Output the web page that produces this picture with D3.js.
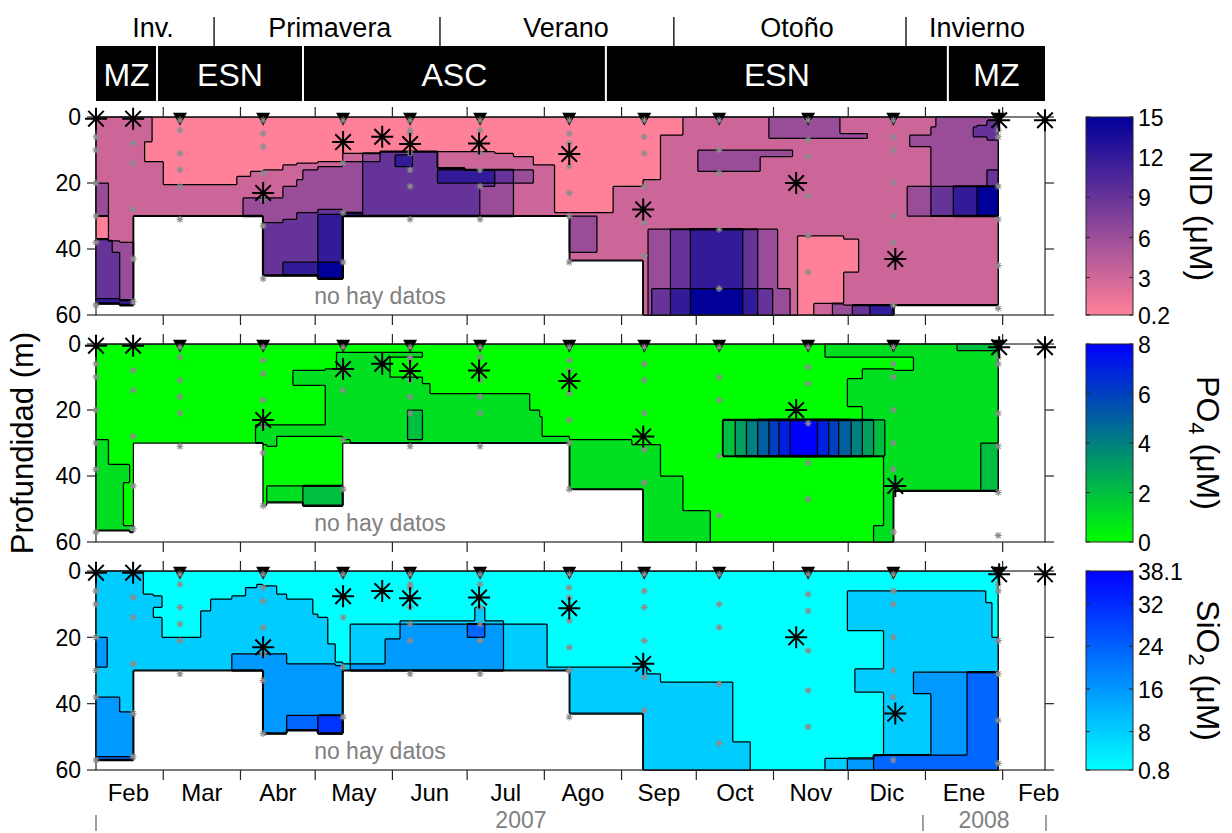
<!DOCTYPE html>
<html><head><meta charset="utf-8">
<script src="https://cdn.jsdelivr.net/npm/d3@7"></script>
<style>
body{margin:0;background:#fff}
svg{display:block}
text{font-family:"Liberation Sans",Arial,Helvetica,sans-serif}
</style>
</head><body>
<svg id="c" width="1232" height="833"></svg>
<script>
// ---------------- DATA ----------------
// time unit: day of year 2007 (0 = 1 Jan 2007; >365 = 2008)
const monthNames = ["Ene","Feb","Mar","Abr","May","Jun","Jul","Ago","Sep","Oct","Nov","Dic"];
const depthTicks = [0, 20, 40, 60];
const seasonNames = ["Inv.","Primavera","Verano","Otoño","Invierno"];
const seasonLabelDoy = [54.9, 125.9, 220.7, 313.4, 385.7];
const seasonBreakDoy = [79.4, 170.1, 264.0, 357.2];
const regimeNames = ["MZ","ESN","ASC","ESN","MZ"];
const regimeBreakDoy = [32, 56.5, 115.1, 236.7, 374.0, 413];
const yearNames = ["2007","2008"];
const yearLabelDoy = [202.6, 388.5];
const yearBreakDoy = [32, 364.0, 413.4];

// sampling stations (gray asterisks) and their depths (m)
const stationDoy = [32, 46.9, 65.7, 99.1, 131.2, 158.1, 186.2, 222, 252.1, 282.2, 317.9, 352.1, 394.2];
const stationDepths = [
  [0.5, 6, 10, 20, 30, 38, 57],
  [0.5, 8, 14, 28, 43, 56],
  [1, 4, 11, 16, 21, 31],
  [1, 5, 9, 17, 25, 33, 49],
  [1, 8, 14, 29, 44],
  [1, 4, 5, 8, 11, 16, 21, 31],
  [1, 4, 8, 11, 16, 21, 31],
  [1, 5, 8, 15, 23, 30, 44],
  [1, 6, 11, 21, 32, 42],
  [1, 10, 17, 34, 52],
  [1, 7, 12, 24, 36, 47],
  [1, 6, 10, 20, 30, 38, 57],
  [1, 4, 6, 21, 31, 45, 58]
];
const triangleStations = [2,3,4,5,6,7,8,9,10,11,12];

// black asterisks
const markDoy   = [32, 46.9, 99.1, 131.2, 146.9, 158.1, 185.8, 222, 251.7, 313.1, 352.9, 394.6, 413];
const markDepth = [0.5, 0.5, 23, 7.6, 6, 8.2, 8, 11.2, 28, 20, 43, 1, 1];

// contour-class fields: [startDoy, endDoy, "class:bottomDepth ..."]  (blank below = no data)
const nidSegments = [
 [32, 36.8, "1:20 2:30 0:37 3:55 4:56.5"],
 [36.8, 38.4, "1:37.5 3:55 4:56.5"],
 [38.4, 41.6, "1:37.5 2:41 3:55 4:56.5"],
 [41.6, 46.9, "1:38 2:55.5 4:57"],
 [46.9, 51.7, "1:30"],
 [51.7, 54.5, "1:7.5 0:13.5 1:30"],
 [54.5, 58.9, "0:13.5 1:30"],
 [58.9, 88.6, "0:20.5 1:30"],
 [88.6, 91, "0:18 1:30"],
 [91, 93.8, "0:18 1:24.5 2:30"],
 [93.8, 99.1, "0:16.5 1:24.5 2:30"],
 [99.1, 107.1, "0:16 1:24.5 2:32 3:48"],
 [107.1, 112.7, "0:14.5 1:21 2:31 3:44 4:48"],
 [112.7, 115.1, "0:14 1:19 2:29 3:44 4:48"],
 [115.1, 120.8, "0:14 1:16 2:29 3:44 4:48"],
 [120.8, 131.2, "0:13.5 1:15 2:28 3:29.5 4:44 5:49"],
 [131.2, 139.2, "0:11 1:13.5 2:29 4:30"],
 [139.2, 146.1, "0:10.8 2:13.5 3:30"],
 [146.1, 152.1, "0:10.5 3:30"],
 [152.1, 159.3, "0:10.5 3:11.5 4:15 3:30"],
 [159.3, 169.3, "0:10.5 3:30"],
 [169.3, 180.2, "0:10.5 1:15.5 3:16 4:20 3:30"],
 [180.2, 186.2, "0:10.5 1:16 4:20 3:30"],
 [186.2, 192.2, "0:10.5 1:16 4:20 3:21 2:30"],
 [192.2, 199.5, "0:11 1:16 3:20 2:30"],
 [199.5, 207.5, "0:12 1:16 2:20 1:30"],
 [207.5, 216.3, "0:14.5 1:30"],
 [216.3, 222, "0:29 1:30"],
 [222, 233.2, "0:29 1:30 2:41 1:43.5"],
 [233.2, 239.6, "0:29 1:43.5"],
 [239.6, 251.7, "0:21 1:43.5"],
 [251.7, 253.7, "0:19 1:60"],
 [253.7, 255.3, "0:19 1:34 2:60"],
 [255.3, 258.5, "0:19 1:34 2:52 3:60"],
 [258.5, 262.5, "0:5.5 1:34 2:52 3:60"],
 [262.5, 267.7, "0:5.5 1:34 3:52 4:60"],
 [267.7, 270.6, "1:34 3:52 4:60"],
 [270.6, 273.4, "1:34 4:52 5:60"],
 [273.4, 291.4, "1:10 2:16.5 1:34 4:52 5:60"],
 [291.4, 297.5, "1:10 2:16.5 1:34 3:52 4:60"],
 [297.5, 298.7, "1:10 2:16.5 1:34 2:52 3:60"],
 [298.7, 301.9, "1:10 2:12 1:34 2:52 3:60"],
 [301.9, 303.9, "2:6.5 1:10 2:12 1:34 2:52 3:60"],
 [303.9, 305.5, "2:6.5 1:10 2:12 1:34 2:60"],
 [305.5, 310.7, "2:6.5 1:10 2:12 1:52 2:60"],
 [310.7, 311.9, "2:6.5 1:10 2:12 1:60"],
 [311.9, 313.5, "2:6.5 1:60"],
 [313.5, 320, "2:6.5 1:36 0:60"],
 [320, 327.6, "2:6.5 1:36 0:56.5 1:60"],
 [327.6, 330.8, "2:6.5 1:36 0:56.5 2:60"],
 [330.8, 332, "1:5 2:6.5 1:36 0:56.5 2:60"],
 [332, 335.6, "1:5 2:6.5 1:37 0:47 1:57 2:60"],
 [335.6, 338, "1:5 2:6.5 1:37 0:47 1:57 3:60"],
 [338, 341.6, "1:5 2:6.5 1:57 3:60"],
 [341.6, 342.8, "1:57 3:60"],
 [342.8, 352.1, "1:57 4:60"],
 [352.1, 357.7, "1:57"],
 [357.7, 358.9, "1:21 2:30 1:57"],
 [358.9, 367, "1:5.5 2:9 1:21 2:30 1:57"],
 [367, 369, "1:3 2:21 3:30 1:57"],
 [369, 376.2, "2:21 3:30 1:57"],
 [376.2, 384.2, "2:21 4:30 1:57"],
 [384.2, 385.8, "2:3 3:6 2:21 4:30 1:57"],
 [385.8, 389.8, "2:2.5 3:6 2:21 5:30 1:57"],
 [389.8, 394.2, "2:1 3:7 2:16 3:21 5:30 1:57"]
];
const po4Segments = [
 [32, 36.8, "0:29 1:56.5"],
 [36.8, 42.8, "0:36.5 1:56.5"],
 [42.8, 45.7, "0:36.5 1:42 0:55 1:56.5"],
 [45.7, 46.9, "0:55 1:57"],
 [46.9, 95.9, "0:30"],
 [95.9, 99.1, "0:24.5 1:30"],
 [99.1, 100.7, "0:24.5 1:30.5 0:49"],
 [100.7, 104.7, "0:24.5 1:31 0:43 1:48"],
 [104.7, 111.1, "0:24.5 1:28 0:43 1:48"],
 [111.1, 115.1, "0:8 1:12.5 0:24.5 1:28 0:43 1:48"],
 [115.1, 124.0, "0:8 1:12.5 0:24.5 1:28 0:43 2:49"],
 [124.0, 128.8, "0:7.5 1:28 0:43 2:49"],
 [128.8, 131.2, "0:2.5 1:28 0:43 2:49"],
 [131.2, 134.0, "0:2.5 1:29 0:30"],
 [134.0, 150.1, "0:2.5 1:30"],
 [150.1, 157.3, "0:2.5 1:4 0:10 1:30"],
 [157.3, 163.3, "0:2.5 1:4 0:10 1:20 2:29 1:30"],
 [163.3, 166.1, "0:12 1:30"],
 [166.1, 206.3, "0:15 1:30"],
 [206.3, 210.3, "0:20 1:30"],
 [210.3, 211.1, "0:22 1:30"],
 [211.1, 222, "0:28 1:30"],
 [222, 247.3, "0:29 1:44"],
 [247.3, 251.7, "0:30.5 1:44"],
 [251.7, 258.5, "0:30.5 1:60"],
 [258.5, 267.5, "0:40 1:60"],
 [267.5, 278.6, "0:50.5 1:60"],
 [278.6, 283.8, "0:60"],
 [283.8, 288.6, "0:23 2:34 0:60"],
 [288.6, 293.1, "0:23 3:34 0:60"],
 [293.1, 297.5, "0:23 4:34 0:60"],
 [297.5, 301.9, "0:23 5:34 0:60"],
 [301.9, 306.3, "0:23 6:34 0:60"],
 [306.3, 310.7, "0:23 7:34 0:60"],
 [310.7, 321.6, "0:23 8:34 0:60"],
 [321.6, 324.8, "0:23 7:34 0:60"],
 [324.8, 326.0, "1:4 0:23 7:34 0:60"],
 [326.0, 330.4, "1:4 0:23 6:34 0:60"],
 [330.4, 333.6, "1:4 0:23 5:34 0:60"],
 [333.6, 335.2, "1:4 0:10.5 1:19 0:23 5:34 0:60"],
 [335.2, 339.6, "1:4 0:10.5 1:19 0:23 4:34 0:60"],
 [339.6, 344.0, "1:4 0:7.5 1:23 3:34 0:60"],
 [344.0, 348.1, "1:4 0:7.5 1:23 2:34 0:55 1:60"],
 [348.1, 348.9, "1:4 0:7.5 1:23 2:34 1:60"],
 [348.9, 352.1, "1:4 0:7.5 1:60"],
 [352.1, 360.1, "1:4 0:8 1:44.5"],
 [360.1, 377.8, "1:44.5"],
 [377.8, 387.0, "2:2 1:44.5"],
 [387.0, 394.2, "2:2 1:30 2:44.5"]
];
const sioSegments = [
 [32, 36.4, "1:20 2:29 1:38 2:56 3:57"],
 [36.4, 41.6, "1:38 2:56 3:57"],
 [41.6, 46.9, "1:42.5 2:56 3:57"],
 [46.9, 50.9, "1:30"],
 [50.9, 54.9, "0:7 1:30"],
 [54.9, 58.5, "0:7.5 1:11 0:14 1:30"],
 [58.5, 73.8, "0:20 1:30"],
 [73.8, 77.8, "0:12 1:30"],
 [77.8, 86.6, "0:8.5 1:30"],
 [86.6, 91.8, "0:7.5 1:25 2:30"],
 [91.8, 96.7, "0:5 1:25 2:30"],
 [96.7, 99.1, "0:4 1:25 2:30"],
 [99.1, 104.7, "0:4.5 1:25 2:49"],
 [104.7, 108.7, "0:7 1:25 2:49"],
 [108.7, 119.1, "0:8.5 1:28 2:43.7 3:48"],
 [119.1, 121.2, "0:13 1:28 2:43.7 3:48"],
 [121.2, 125.2, "0:14 1:28 2:43.7 4:49"],
 [125.2, 128.0, "0:22 1:28 2:43.7 4:49"],
 [128.0, 131.2, "0:27.5 1:28.5 2:43.7 4:49"],
 [131.2, 134.0, "0:28 1:30"],
 [134.0, 148.1, "0:16 1:28 2:30"],
 [148.1, 154.1, "0:16 1:20.5 2:30"],
 [154.1, 181.0, "0:15 1:16 2:30"],
 [181.0, 184.2, "0:15 1:16 3:20 2:30"],
 [184.2, 188.2, "0:11 1:16 3:20 2:30"],
 [188.2, 195.5, "0:15 1:16 2:30"],
 [195.5, 213.1, "0:16 1:30"],
 [213.1, 222, "0:29 1:30"],
 [222, 251.7, "0:29 1:43.2"],
 [251.7, 253.3, "0:29 1:60"],
 [253.3, 258.5, "0:31 1:60"],
 [258.5, 287.8, "0:33.5 1:60"],
 [287.8, 294.6, "0:51.5 1:60"],
 [294.6, 324.8, "0:60"],
 [324.8, 333.6, "0:56.5 1:60"],
 [333.6, 336.8, "0:6 1:18 0:56.5 2:60"],
 [336.8, 344.0, "0:6 1:18 0:29.5 1:36.5 0:56.5 2:60"],
 [344.0, 348.1, "0:6 1:18 0:29.5 1:36.5 0:55.5 3:60"],
 [348.1, 360.1, "0:6 1:55.5 3:60"],
 [360.1, 367.0, "0:6 1:30.5 2:37 1:55.5 3:60"],
 [367.0, 381.8, "0:6 1:30.5 2:55.5 3:60"],
 [381.8, 389.0, "0:6 1:30.5 3:60"],
 [389.0, 391.8, "0:9.5 1:30.5 3:60"],
 [391.8, 394.2, "0:20 1:30.5 3:60"]
];

// colour bars
const nidTicks = [0.2, 3, 6, 9, 12, 15];
const po4Ticks = [0, 2, 4, 6, 8];
const sioTicks = [0.8, 8, 16, 24, 32, 38.1];

// ---------------- DRAWING ----------------
const svg = d3.select("#c");
const day0 = Date.UTC(2007, 0, 1);
const dateOf = d => new Date(day0 + d * 864e5);
const xs = d3.scaleUtc().domain([dateOf(32), dateOf(413)]).range([96, 1045]);
const XL = 96, XR = 1045;
const T0 = 32, T1 = 394.2, NX = 724, NY = 120, DX = (T1 - T0) / NX, DY = 0.5;

const panels = [
  {top:117, bottom:315, seg:nidSegments, nLev:6, interp:d3.interpolateRgb("#ff8099","#000099"),
   ticks:nidTicks, dom:[0.2,15], title:[["NID",0],[" (μM)",0]], tx:1190},
  {top:344, bottom:542, seg:po4Segments, nLev:9, interp:d3.interpolateRgb("#00ff00","#0000ff"),
   ticks:po4Ticks, dom:[0,8], title:[["PO",0],["4",1],[" (μM)",0]], tx:1197},
  {top:571, bottom:770, seg:sioSegments, nLev:6, interp:d3.interpolateRgb("#00ffff","#0000ff"),
   ticks:sioTicks, dom:[0.8,38.1], title:[["SiO",0],["2",1],[" (μM)",0]], tx:1197}
];

function buildGrid(segments){
  const vals = new Float64Array(NX*NY).fill(-1);
  segments.forEach(([a,b,prof]) => {
    const runs = prof.trim().split(/\s+/).map(s => { const p = s.split(":"); return [+p[0], +p[1]]; });
    for (let i = 0; i < NX; i++){
      const t = T0 + (i + 0.5) * DX;
      if (t < a || t >= b) continue;
      for (let j = 0; j < NY; j++){
        const d = (j + 0.5) * DY;
        let v = -1;
        for (const [l, bot] of runs){ if (d < bot){ v = l; break; } }
        vals[j*NX + i] = v;
      }
    }
  });
  return vals;
}

const AX = "#262626";
function asterisk(g, x, y, r, color, w){
  const a = r * Math.SQRT1_2;
  const p = `M${x-r},${y}L${x+r},${y}M${x},${y-r}L${x},${y+r}M${x-a},${y-a}L${x+a},${y+a}M${x-a},${y+a}L${x+a},${y-a}`;
  g.append("path").attr("d", p).attr("stroke", color).attr("stroke-width", w).attr("fill","none");
}

panels.forEach((P, pi) => {
  const ys = d3.scaleLinear().domain([0, 60]).range([P.top, P.bottom]);
  const g = svg.append("g");
  const levelColor = k => P.interp(P.nLev > 1 ? k/(P.nLev-1) : 0);

  // filled contours
  const vals = buildGrid(P.seg);
  const thresholds = d3.range(P.nLev).map(k => k - 0.5);
  const contours = d3.contours().size([NX, NY]).thresholds(thresholds)(vals);
  const proj = d3.geoTransform({ point(x, y){ this.stream.point(xs(dateOf(T0 + x*DX)), ys(y*DY)); } });
  const path = d3.geoPath(proj);
  g.append("g").selectAll("path").data(contours).join("path")
    .attr("d", path)
    .attr("fill", (c, i) => levelColor(i))
    .attr("stroke", "#000").attr("stroke-width", 1.25).attr("stroke-linejoin","round");

  // no data label
  g.append("text").attr("x", 380).attr("y", ys(56.7)).attr("text-anchor","middle")
    .attr("font-size", 23).attr("fill", "#808080").text("no hay datos");

  // frame
  g.append("rect").attr("x", XL).attr("y", P.top).attr("width", XR-XL).attr("height", P.bottom-P.top)
    .attr("fill","none").attr("stroke", AX).attr("stroke-width", 1.2);
  // month ticks top/bottom (outward)
  const mt = d3.utcMonth.range(dateOf(32), dateOf(413));
  mt.forEach(m => {
    const x = xs(m);
    g.append("line").attr("x1",x).attr("x2",x).attr("y1",P.top).attr("y2",P.top-10).attr("stroke",AX).attr("stroke-width",1.2);
    g.append("line").attr("x1",x).attr("x2",x).attr("y1",P.bottom).attr("y2",P.bottom+10).attr("stroke",AX).attr("stroke-width",1.2);
  });
  // depth ticks
  depthTicks.forEach(d => {
    const y = ys(d);
    g.append("line").attr("x1",XL).attr("x2",XL-9).attr("y1",y).attr("y2",y).attr("stroke",AX).attr("stroke-width",1.2);
    g.append("line").attr("x1",XR).attr("x2",XR+9).attr("y1",y).attr("y2",y).attr("stroke",AX).attr("stroke-width",1.2);
    g.append("text").attr("x", 81).attr("y", y).attr("dy","0.36em").attr("text-anchor","end")
      .attr("font-size", 23).attr("fill","#000").text(d);
  });

  // triangles
  triangleStations.forEach(si => {
    const x = xs(dateOf(stationDoy[si])), y = ys(0.5);
    g.append("path").attr("d", `M${x-7},${y-6}L${x+7},${y-6}L${x},${y+7}Z`).attr("fill","#000");
  });
  // sampling depths (gray asterisks)
  stationDoy.forEach((sd, si) => {
    const x = xs(dateOf(sd));
    stationDepths[si].forEach(dep => asterisk(g, x, ys(dep), 3.5, "#8c8c8c", 1.1));
  });
  // black asterisks
  markDoy.forEach((md, i) => asterisk(g, xs(dateOf(md)), ys(markDepth[i]), 11, "#000", 2));

  // colour bar
  const cbx = 1086, cbw = 47;
  const cs = d3.scaleLinear().domain(P.dom).range([P.bottom, P.top]);
  const gid = "grad" + pi;
  const grad = svg.append("defs").append("linearGradient").attr("id", gid)
    .attr("x1",0).attr("y1",1).attr("x2",0).attr("y2",0);
  d3.range(0, 1.0001, 0.1).forEach(t => grad.append("stop").attr("offset", t).attr("stop-color", P.interp(t)));
  g.append("rect").attr("x",cbx).attr("y",P.top).attr("width",cbw).attr("height",P.bottom-P.top)
    .attr("fill",`url(#${gid})`).attr("stroke",AX).attr("stroke-width",1);
  P.ticks.forEach(v => {
    const y = cs(v);
    g.append("line").attr("x1",cbx).attr("x2",cbx+4).attr("y1",y).attr("y2",y).attr("stroke",AX);
    g.append("line").attr("x1",cbx+cbw).attr("x2",cbx+cbw-4).attr("y1",y).attr("y2",y).attr("stroke",AX);
    g.append("text").attr("x", cbx+cbw+5).attr("y", y).attr("dy","0.4em")
      .attr("font-size", 23).attr("fill","#000").text(v);
  });
  const tt = g.append("text").attr("transform", `translate(${P.tx},${(P.top+P.bottom)/2}) rotate(90)`)
    .attr("text-anchor","middle").attr("font-size", 32).attr("fill","#000");
  let sub = false;
  P.title.forEach(([s, isSub]) => {
    const ts = tt.append("tspan").text(s);
    if (isSub && !sub){ ts.attr("font-size", 22).attr("dy", 8); sub = true; }
    else if (!isSub && sub){ ts.attr("dy", -8); sub = false; }
  });
});

// month labels (bottom)
d3.utcMonth.range(dateOf(31), dateOf(413)).forEach(m => {
  const next = d3.utcMonth.offset(m, 1);
  const mid = new Date((m.getTime() + next.getTime())/2);
  svg.append("text").attr("x", xs(mid)).attr("y", 801).attr("text-anchor","middle")
    .attr("font-size", 24).attr("fill","#000").text(monthNames[m.getUTCMonth()]);
});
// year labels
yearNames.forEach((y, i) => svg.append("text").attr("x", xs(dateOf(yearLabelDoy[i]))).attr("y", 828)
  .attr("text-anchor","middle").attr("font-size", 23).attr("fill","#808080").text(y));
yearBreakDoy.forEach(d => svg.append("line").attr("x1", xs(dateOf(d))).attr("x2", xs(dateOf(d)))
  .attr("y1", 815).attr("y2", 831).attr("stroke","#808080").attr("stroke-width",1.5));

// y label
svg.append("text").attr("transform","translate(33,443) rotate(-90)").attr("text-anchor","middle")
  .attr("font-size", 31).attr("fill","#000").text("Profundidad (m)");

// header: seasons and regimes
seasonBreakDoy.forEach(d => svg.append("line").attr("x1", xs(dateOf(d))).attr("x2", xs(dateOf(d)))
  .attr("y1", 17).attr("y2", 46).attr("stroke","#000").attr("stroke-width",1.3));
seasonNames.forEach((s, i) => svg.append("text").attr("x", xs(dateOf(seasonLabelDoy[i]))).attr("y", 37)
  .attr("text-anchor","middle").attr("font-size", 27).attr("fill","#000").text(s));
regimeNames.forEach((r, i) => {
  const x0 = xs(dateOf(regimeBreakDoy[i])), x1 = xs(dateOf(regimeBreakDoy[i+1]));
  const a = i ? x0 + 1 : x0, b = i < regimeNames.length-1 ? x1 - 1 : x1;
  svg.append("rect").attr("x", a).attr("y", 46).attr("width", b - a).attr("height", 55).attr("fill","#000");
  svg.append("text").attr("x", (x0+x1)/2).attr("y", 86).attr("text-anchor","middle")
    .attr("font-size", 32).attr("fill","#fff").text(r);
});
</script>
</body></html>
